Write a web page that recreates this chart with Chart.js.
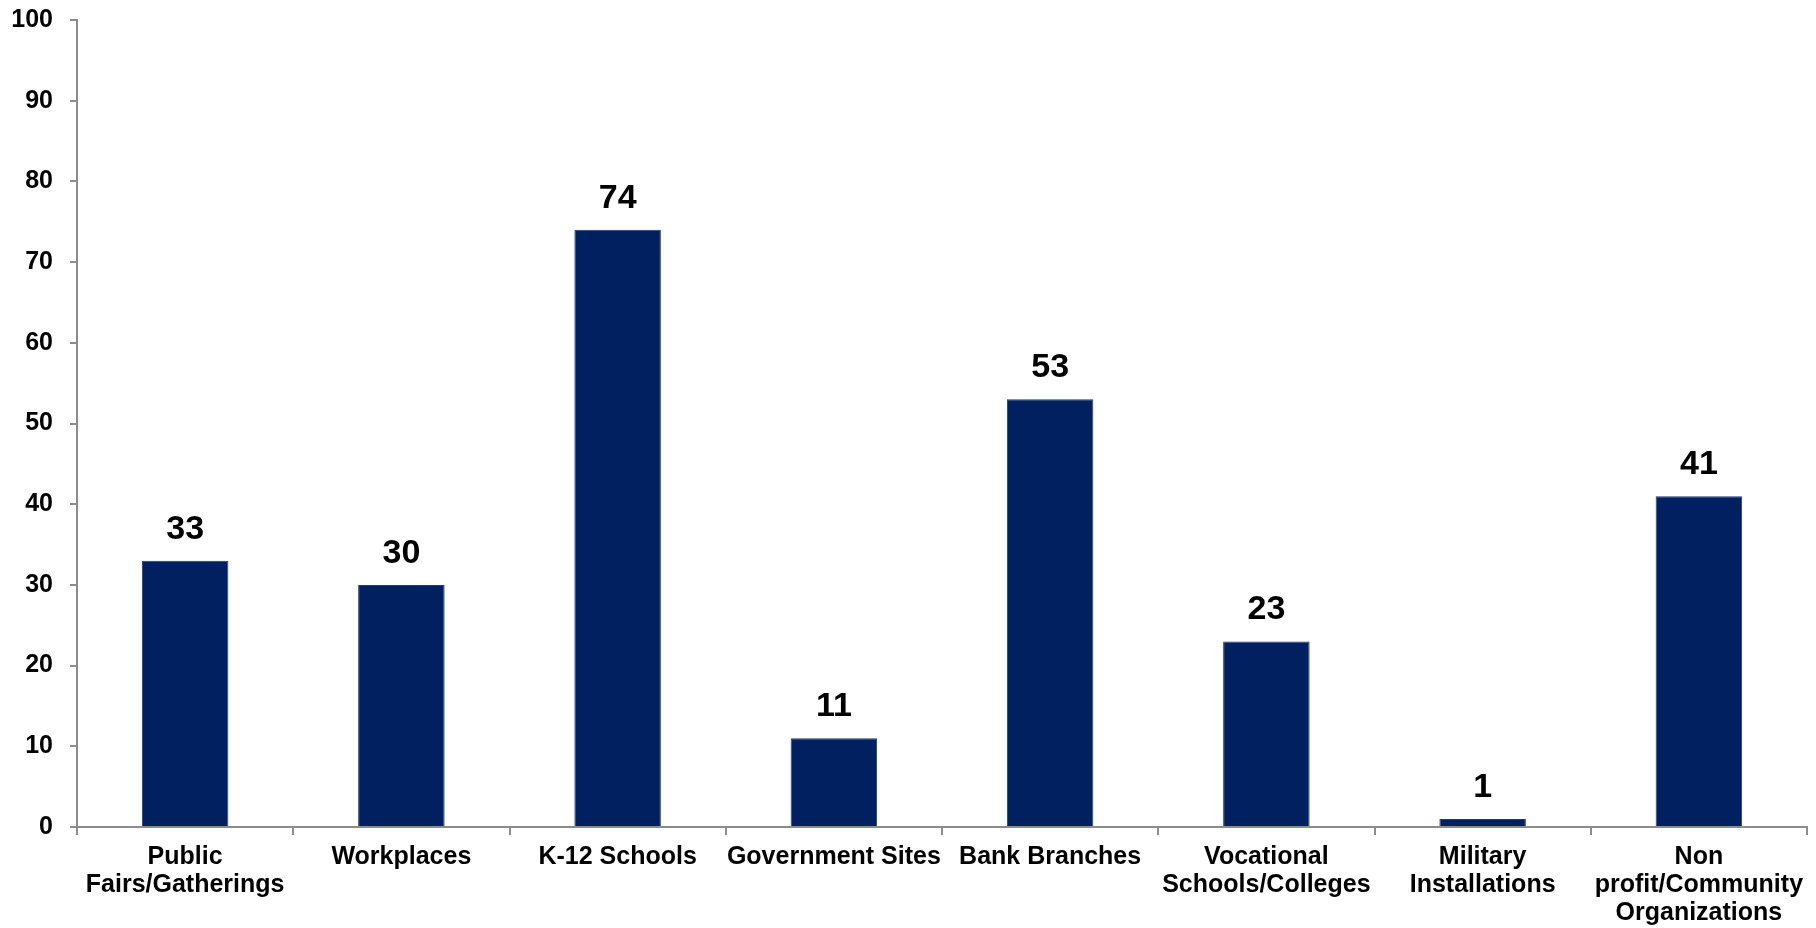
<!DOCTYPE html>
<html>
<head>
<meta charset="utf-8">
<script src="https://cdn.jsdelivr.net/npm/chart.js@4.4.1/dist/chart.umd.min.js"></script>
<style>
  html, body { margin: 0; padding: 0; background: #fff; }
  #wrap { width: 1816px; height: 928px; }
</style>
</head>
<body>
<div id="wrap"><canvas id="chart" width="1816" height="928"></canvas></div>
<script>
// chart data
const categories = [
    ['Public', 'Fairs/Gatherings'],
    'Workplaces',
    'K-12 Schools',
    'Government Sites',
    'Bank Branches',
    ['Vocational', 'Schools/Colleges'],
    ['Military', 'Installations'],
    ['Non', 'profit/Community', 'Organizations']
];
const counts = [33, 30, 74, 11, 53, 23, 1, 41];
const yTicks = [0, 10, 20, 30, 40, 50, 60, 70, 80, 90, 100];

const FONT = "'Liberation Sans', Arial, sans-serif";
const AXIS_GREY = '#8c8c8c';

// value labels above the bars
const barLabels = {
    id: 'barLabels',
    afterDatasetsDraw(chart) {
        const ctx = chart.ctx;
        const meta = chart.getDatasetMeta(0);
        ctx.save();
        ctx.font = 'bold 34px ' + FONT;
        ctx.fillStyle = '#000';
        ctx.textAlign = 'center';
        ctx.textBaseline = 'alphabetic';
        meta.data.forEach((bar, i) => {
            ctx.fillText(String(chart.data.datasets[0].data[i]), bar.x, bar.y - 22);
        });
        ctx.restore();
    }
};

new Chart(document.getElementById('chart').getContext('2d'), {
    type: 'bar',
    data: {
        labels: categories,
        datasets: [{
            data: counts,
            backgroundColor: '#002060',
            borderColor: '#1f3a78',
            borderWidth: 1,
            categoryPercentage: 0.8,
            barPercentage: 0.5
        }]
    },
    options: {
        responsive: false,
        animation: false,
        layout: { padding: { top: 20, right: 9, left: 0, bottom: 0 } },
        plugins: {
            legend: { display: false },
            tooltip: { enabled: false }
        },
        scales: {
            y: {
                min: 0,
                max: 100,
                afterBuildTicks(scale) {
                    scale.ticks = yTicks.map(v => ({ value: v }));
                },
                afterFit(scale) {
                    scale.width = 77;
                    // keep the plot top where the reference has it
                    scale.paddingTop = 0;
                    scale.paddingBottom = 0;
                },
                border: { color: AXIS_GREY, width: 2 },
                grid: { drawOnChartArea: false, drawTicks: true, tickLength: 7, color: AXIS_GREY, lineWidth: 2 },
                ticks: {
                    padding: 17,
                    color: '#000',
                    font: { family: FONT, size: 25, weight: 'bold' }
                }
            },
            x: {
                afterFit(scale) { scale.height = 101; },
                border: { color: AXIS_GREY, width: 2 },
                grid: { offset: true, drawOnChartArea: false, drawTicks: true, tickLength: 8, color: AXIS_GREY, lineWidth: 2 },
                ticks: {
                    autoSkip: false,
                    maxRotation: 0,
                    minRotation: 0,
                    padding: 8,
                    color: '#000',
                    font: { family: FONT, size: 25, weight: 'bold', lineHeight: 1.12 }
                }
            }
        }
    },
    plugins: [barLabels]
});
</script>
</body>
</html>
